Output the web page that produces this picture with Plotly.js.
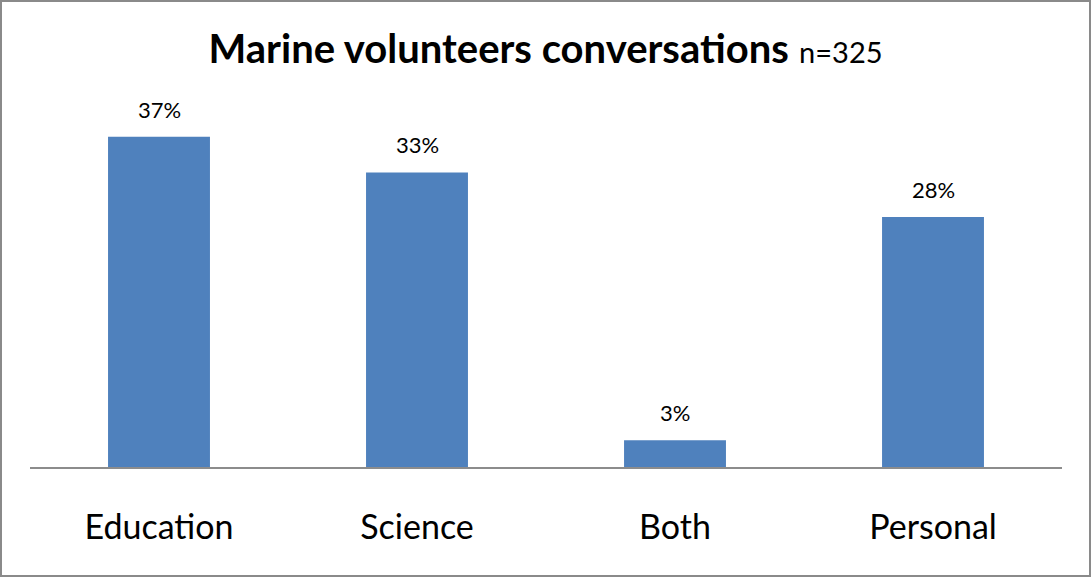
<!DOCTYPE html>
<html>
<head>
<meta charset="utf-8">
<script src="https://cdn.plot.ly/plotly-3.0.1.min.js"></script>
<style>
html,body{margin:0;padding:0;background:#fff;}
#wrap{position:relative;width:1091px;height:577px;}
#chart{width:1091px;height:577px;}
#frame{position:absolute;left:0;top:0;width:1091px;height:577px;box-sizing:border-box;border:2px solid #8a8a8a;pointer-events:none;}
</style>
</head>
<body>
<div id="wrap"><div id="chart"></div><div id="frame"></div></div>
<script>
const categories = ["Education", "Science", "Both", "Personal"];
const values = [37, 33, 3, 28];
const valueLabels = ["37%", "33%", "3%", "28%"];

const trace = {
  type: "bar",
  x: categories,
  y: values,
  marker: {color: "#4F81BD"},
  hoverinfo: "x+y"
};

const annotations = categories.map((c, i) => ({
  x: c, y: values[i], xref: "x", yref: "y",
  text: valueLabels[i], showarrow: false,
  yanchor: "bottom", yshift: 12,
  font: {family: "Lato, 'Open Sans', sans-serif", size: 22, color: "#000"}
}));

const layout = {
  width: 1091, height: 577,
  margin: {l: 30, r: 29, t: 110, b: 110},
  paper_bgcolor: "#fff", plot_bgcolor: "#fff",
  bargap: 0.605,
  showlegend: false,
  title: {
    text: "<b>Marine volunteers conversations</b> <span style='font-size:29px'>n=325</span>",
    x: 0.5, xanchor: "center", y: 0.915, yanchor: "middle",
    font: {family: "Lato, 'Open Sans', sans-serif", size: 40, color: "#000"}
  },
  xaxis: {
    showgrid: false, zeroline: false,
    showline: true, linecolor: "#8c8c8c", linewidth: 2,
    ticks: "", tickfont: {family: "Lato, 'Open Sans', sans-serif", size: 34, color: "#000"},
    ticklabelstandoff: 29
  },
  yaxis: {
    range: [0, 40], visible: false, showgrid: false, zeroline: false
  },
  annotations: annotations
};

Plotly.newPlot("chart", [trace], layout, {displayModeBar: false, staticPlot: true});
</script>
</body>
</html>
